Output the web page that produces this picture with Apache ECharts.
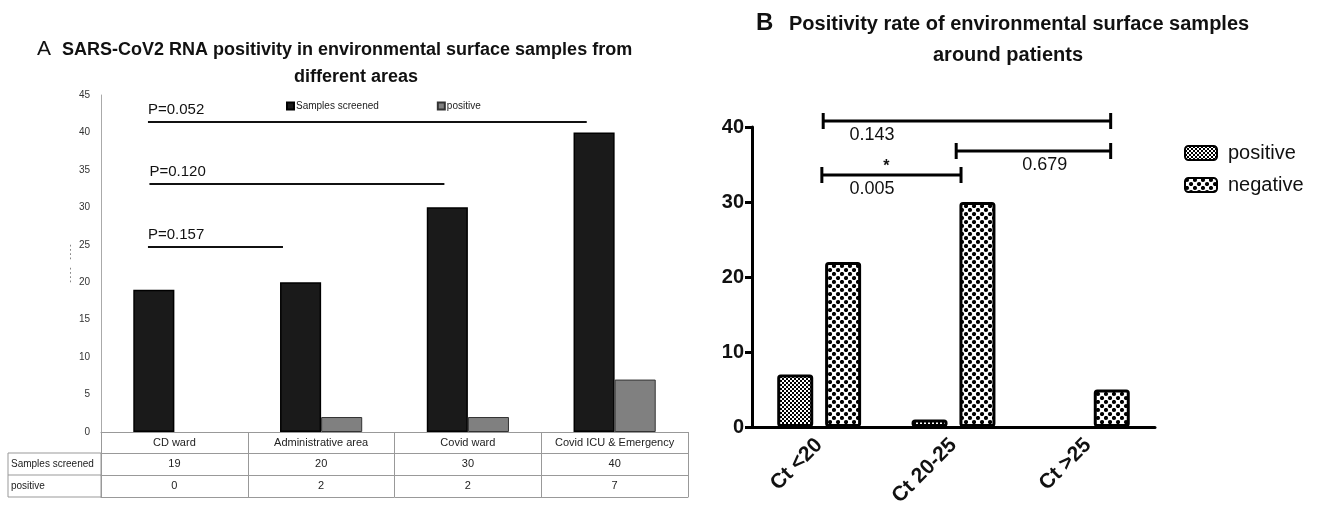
<!DOCTYPE html>
<html>
<head>
    <meta charset="utf-8">
    <title>Environmental surface samples</title>
    <script src="https://cdn.jsdelivr.net/npm/echarts@6/dist/echarts.min.js"></script>
    <style>
        *{ margin: 0; padding: 0; }
        html,body{ width: 100%; height: 100%; overflow: hidden; background: #fff; }
        #main{ width: 1318px; height: 517px; }
    </style>
</head>
<body>
<div id="main"></div>
<script>
    // ---- panel A data ----
    const areas = ['CD ward', 'Administrative area', 'Covid ward', 'Covid ICU & Emergency'];
    const screened = [19, 20, 30, 40];
    const positiveA = [0, 2, 2, 7];
    // p-value lines (x in category units, y in axis units)
    const pStart = [0.32, 0.33, 0.32];
    const pEnd = [3.31, 2.34, 1.24];
    const pLevel = [41.4, 33.1, 24.7];
    const pText = ['P=0.052', 'P=0.120', 'P=0.157'];

    // ---- panel B data ----
    const ctGroups = ['Ct <20', 'Ct 20-25', 'Ct >25'];
    const positiveB = [7, 1, 0];
    const negativeB = [22, 30, 5];
    const bStart = [0.53, 1.52, 0.52];
    const bEnd = [2.67, 2.67, 1.556];
    const bLevel = [40.8, 36.8, 33.6];
    const bLabelX = [0.894, 2.18, 0.894];
    const bText = ['0.143', '0.679', '0.005'];
    const bStar = ['', '', '*'];

    const narrow = '"Liberation Sans Narrow", "Liberation Sans", sans-serif';
    const arial = '"Liberation Sans", Arial, sans-serif';

    // a zero count draws no bar at all
    const noZero = arr => arr.map(v => (v === 0 ? null : v));

    // hatch patterns for panel B
    function makePattern(size, draw) {
        const c = document.createElement('canvas');
        c.width = size; c.height = size;
        const ctx = c.getContext('2d');
        ctx.fillStyle = '#fff';
        ctx.fillRect(0, 0, size, size);
        ctx.fillStyle = '#000';
        draw(ctx);
        return { image: c, repeat: 'repeat' };
    }
    const finePattern = makePattern(4, ctx => {
        ctx.fillRect(0, 0, 2, 2);
        ctx.fillRect(2, 2, 2, 2);
    });
    const dotPattern = makePattern(8, ctx => {
        ctx.beginPath(); ctx.arc(2, 2, 2.1, 0, Math.PI * 2); ctx.fill();
        ctx.beginPath(); ctx.arc(6, 6, 2.1, 0, Math.PI * 2); ctx.fill();
    });

    let myCharts = echarts.init(document.getElementById('main'));

    const tableAxis = (data, offset, showLabel) => ({
        type: 'category', gridIndex: 0, position: 'bottom', offset: offset,
        data: data, boundaryGap: true,
        axisLine: { show: true, lineStyle: { color: '#999', width: 1 } },
        axisTick: { show: showLabel, length: 22, interval: 0, lineStyle: { color: '#999' } },
        axisLabel: { show: showLabel, interval: 0, margin: 5, fontSize: 11, color: '#222', fontFamily: narrow },
        splitLine: { show: false }
    });

    let option = {
        backgroundColor: '#fff',
        animation: false,
        grid: [
            { left: 101, top: 95, width: 587, height: 337 },
            { left: 752, top: 127, width: 403, height: 300 }
        ],
        legend: [
            {
                data: ['Samples screened', 'positive'],
                left: 281, top: 96, itemWidth: 7, itemHeight: 7, itemGap: 58,
                icon: 'rect',
                textStyle: { fontSize: 10, color: '#222', fontFamily: narrow, padding: [0, 0, 0, -3] }
            },
            {
                data: ['positive ', 'negative'],
                orient: 'vertical', left: 1179, top: 138,
                itemWidth: 32, itemHeight: 14, itemGap: 12,
                textStyle: { fontSize: 20, color: '#111', fontFamily: arial, padding: [0, 0, 0, 6] }
            }
        ],
        xAxis: [
            tableAxis(areas, 0, true),
            tableAxis(screened.map(String), 21, true),
            tableAxis(positiveA.map(String), 43, true),
            tableAxis(areas, 65, false),
            { type: 'value', gridIndex: 0, min: 0, max: 4, show: false },
            {
                type: 'category', gridIndex: 1, data: ctGroups,
                axisLine: { lineStyle: { color: '#000', width: 3 } },
                axisTick: { alignWithLabel: true, length: 8, lineStyle: { width: 3, color: '#000' } },
                axisLabel: { rotate: 45, margin: 15, fontSize: 21, fontWeight: 'bold', color: '#111', fontFamily: arial }
            },
            { type: 'value', gridIndex: 1, min: 0, max: 3, show: false }
        ],
        yAxis: [
            {
                type: 'value', gridIndex: 0, min: 0, max: 45, interval: 5,
                name: '- - - -    - - - -', nameLocation: 'middle', nameGap: 27, nameRotate: 90,
                nameTextStyle: { fontSize: 7, color: '#333' },
                axisLine: { show: true, lineStyle: { color: '#aaa' } },
                axisTick: { show: false },
                axisLabel: { fontSize: 10, color: '#333', margin: 11, fontFamily: narrow },
                splitLine: { show: false }
            },
            {
                type: 'value', gridIndex: 1, min: 0, max: 40, interval: 10,
                axisLine: { show: true, lineStyle: { color: '#000', width: 3 } },
                axisTick: { show: true, length: 7, lineStyle: { width: 3, color: '#000' } },
                axisLabel: { fontSize: 20, fontWeight: 'bold', color: '#111', margin: 8, fontFamily: arial },
                splitLine: { show: false }
            }
        ],
        series: [
            {
                name: 'Samples screened', type: 'bar', xAxisIndex: 0, yAxisIndex: 0,
                data: noZero(screened), barGap: '0%', barCategoryGap: '44%',
                itemStyle: { color: '#1a1a1a', borderColor: '#000', borderWidth: 1.5 }
            },
            {
                name: 'positive', type: 'bar', xAxisIndex: 0, yAxisIndex: 0,
                data: noZero(positiveA),
                itemStyle: { color: '#808080', borderColor: '#333', borderWidth: 1 }
            },
            {
                type: 'custom', xAxisIndex: 4, yAxisIndex: 0, silent: true,
                data: pLevel.map((y, i) => [pStart[i], pEnd[i], y]),
                renderItem: function (params, api) {
                    const a = api.coord([api.value(0), api.value(2)]);
                    const b = api.coord([api.value(1), api.value(2)]);
                    return {
                        type: 'group',
                        children: [
                            { type: 'line', shape: { x1: a[0], y1: a[1], x2: b[0], y2: b[1] },
                              style: { stroke: '#111', lineWidth: 2 } },
                            { type: 'text', x: a[0], y: a[1] - 12,
                              style: { text: pText[params.dataIndex], fontSize: 15, fill: '#111',
                                       fontFamily: narrow, align: 'left', verticalAlign: 'middle' } }
                        ]
                    };
                }
            },
            {
                name: 'positive ', type: 'bar', xAxisIndex: 5, yAxisIndex: 1,
                data: noZero(positiveB), barWidth: 36, barGap: '33%',
                itemStyle: { color: finePattern, borderColor: '#000', borderWidth: 3, borderRadius: 2 }
            },
            {
                name: 'negative', type: 'bar', xAxisIndex: 5, yAxisIndex: 1,
                data: noZero(negativeB), barWidth: 36,
                itemStyle: { color: dotPattern, borderColor: '#000', borderWidth: 3, borderRadius: 2 }
            },
            {
                type: 'custom', xAxisIndex: 6, yAxisIndex: 1, silent: true,
                data: bLevel.map((y, i) => [bStart[i], bEnd[i], y, bLabelX[i]]),
                renderItem: function (params, api) {
                    const i = params.dataIndex;
                    const a = api.coord([api.value(0), api.value(2)]);
                    const b = api.coord([api.value(1), api.value(2)]);
                    const t = api.coord([api.value(3), api.value(2)]);
                    const st = { stroke: '#000', lineWidth: 3 };
                    return {
                        type: 'group',
                        children: [
                            { type: 'line', shape: { x1: a[0], y1: a[1], x2: b[0], y2: b[1] }, style: st },
                            { type: 'line', shape: { x1: a[0], y1: a[1] - 8, x2: a[0], y2: a[1] + 8 }, style: st },
                            { type: 'line', shape: { x1: b[0], y1: b[1] - 8, x2: b[0], y2: b[1] + 8 }, style: st },
                            { type: 'text', x: t[0], y: t[1] + 14,
                              style: { text: bText[i], fontSize: 18, fill: '#111', fontFamily: arial,
                                       align: 'center', verticalAlign: 'middle' } },
                            { type: 'text', x: (a[0] + b[0]) / 2 - 5, y: a[1] - 8,
                              style: { text: bStar[i], fontSize: 16, fontWeight: 'bold', fill: '#111',
                                       fontFamily: arial, align: 'center', verticalAlign: 'middle' } }
                        ]
                    };
                }
            }
        ],
        graphic: [
            { type: 'text', left: 37, top: 39, style: { text: 'A', fontSize: 21, fill: '#111', fontFamily: arial } },
            { type: 'text', left: 62, top: 41,
              style: { text: 'SARS-CoV2 RNA positivity in environmental surface samples from', fontSize: 18,
                       fontWeight: 'bold', fill: '#111', fontFamily: narrow } },
            { type: 'text', left: 294, top: 68,
              style: { text: 'different areas', fontSize: 18, fontWeight: 'bold', fill: '#111', fontFamily: narrow } },
            { type: 'text', left: 756, top: 11, style: { text: 'B', fontSize: 24, fontWeight: 'bold', fill: '#111', fontFamily: arial } },
            { type: 'text', left: 789, top: 14,
              style: { text: 'Positivity rate of environmental surface samples', fontSize: 20,
                       fontWeight: 'bold', fill: '#111', fontFamily: arial } },
            { type: 'text', left: 933, top: 45,
              style: { text: 'around patients', fontSize: 20, fontWeight: 'bold', fill: '#111', fontFamily: arial } },
            // row header column of the table under panel A
            { type: 'rect', shape: { x: 8, y: 453, width: 93, height: 44 },
              style: { fill: 'none', stroke: '#999', lineWidth: 1 } },
            { type: 'line', shape: { x1: 8, y1: 475, x2: 101, y2: 475 }, style: { stroke: '#999', lineWidth: 1 } },
            { type: 'text', left: 11, top: 459, style: { text: 'Samples screened', fontSize: 10, fill: '#222', fontFamily: narrow } },
            { type: 'text', left: 11, top: 481, style: { text: 'positive', fontSize: 10, fill: '#222', fontFamily: narrow } }
        ]
    };
    myCharts.setOption(option);
</script>
</body>
</html>
